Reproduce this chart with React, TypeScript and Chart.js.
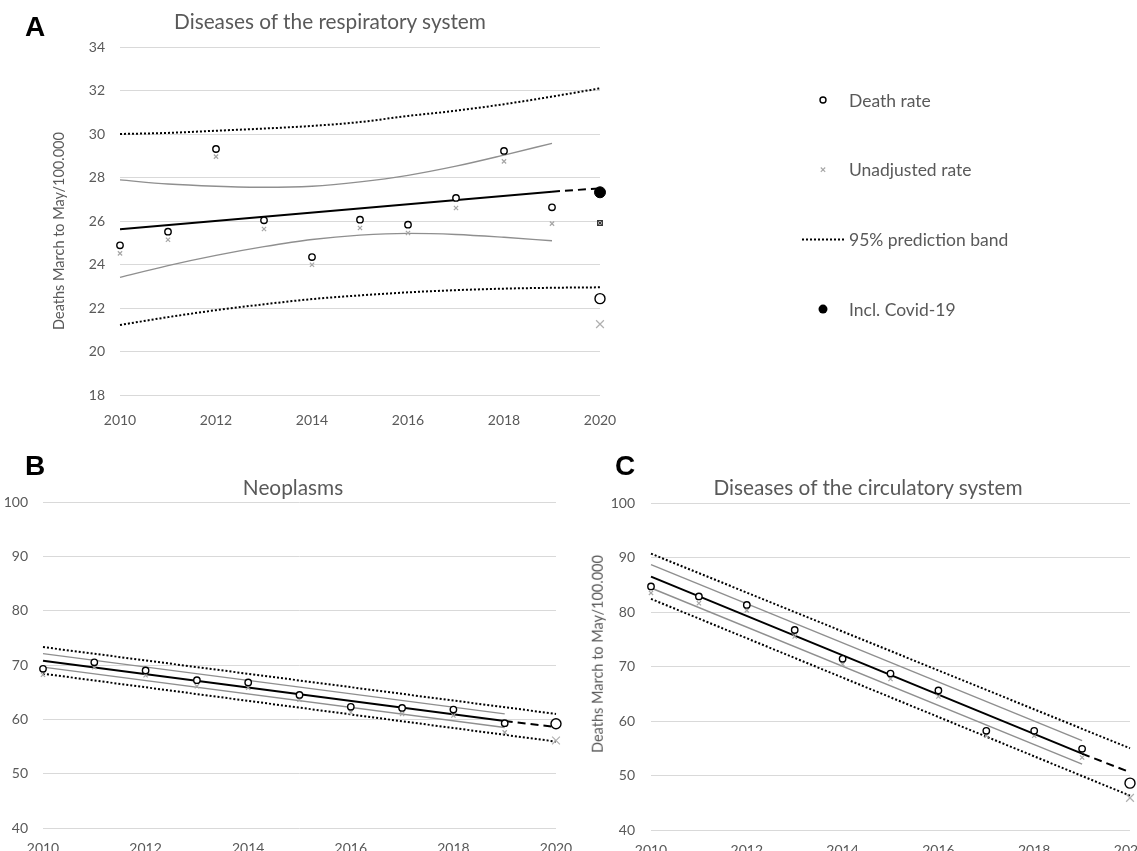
import React, { useEffect, useRef } from "react";
import { Chart, registerables } from "chart.js";

Chart.register(...registerables);

const FONT = "Lato, 'Open Sans', sans-serif";
const TEXT_GRAY = "#595959";
const GRID_GRAY = "#d9d9d9";
const CI_GRAY = "#8f8f8f";
const X_GRAY = "#a6a6a6";

// ---------- shared categories / ticks ----------
const YEARS = [2010, 2011, 2012, 2013, 2014, 2015, 2016, 2017, 2018, 2019];
const YEARS_ALL = [2010, 2011, 2012, 2013, 2014, 2015, 2016, 2017, 2018, 2019, 2020];
const YEAR_2020 = [2020];
const FIT_YEARS = [2010, 2019];
const EXT_YEARS = [2019, 2020];
const BAND_YEARS = [2010, 2020];
const X_TICKS = [2010, 2012, 2014, 2016, 2018, 2020];
const A_Y_TICKS = [18, 20, 22, 24, 26, 28, 30, 32, 34];
const BC_Y_TICKS = [40, 50, 60, 70, 80, 90, 100];

// ---------- Panel A: respiratory ----------
const A_RATE = [24.88, 25.51, 29.31, 26.03, 24.34, 26.06, 25.83, 27.06, 29.22, 26.63];
const A_UNADJ = [24.51, 25.14, 28.96, 25.63, 23.99, 25.68, 25.45, 26.6, 28.74, 25.88];
const A_RATE_2020 = [22.43];
const A_UNADJ_2020 = [21.26];
const A_COVID_RATE_2020 = [27.32];
const A_COVID_UNADJ_2020 = [25.91];
const A_FIT = [25.62, 27.35];
const A_FIT_EXT = [27.35, 27.5];
const A_CI_UPPER = [27.89, 27.7, 27.6, 27.55, 27.6, 27.8, 28.1, 28.52, 29.03, 29.57];
const A_CI_LOWER = [23.41, 23.95, 24.42, 24.82, 25.15, 25.35, 25.43, 25.38, 25.25, 25.09];
const A_PI_UPPER = [30.0, 30.05, 30.15, 30.25, 30.37, 30.55, 30.83, 31.07, 31.37, 31.72, 32.1];
const A_PI_LOWER = [21.22, 21.58, 21.9, 22.17, 22.41, 22.58, 22.72, 22.82, 22.89, 22.93, 22.95];

// ---------- Panel B: neoplasms ----------
const B_RATE = [69.3, 70.5, 69.0, 67.2, 66.8, 64.5, 62.3, 62.1, 61.8, 59.3];
const B_UNADJ = [68.2, 69.6, 68.1, 66.1, 65.8, 63.6, 61.3, 61.0, 60.7, 57.6];
const B_RATE_2020 = [59.2];
const B_UNADJ_2020 = [56.1];
const B_FIT = [70.8, 59.7];
const B_FIT_EXT = [59.7, 58.6];
const B_CI_UPPER = [72.1, 61.0];
const B_CI_LOWER = [69.6, 58.5];
const B_PI_UPPER = [73.3, 61.0];
const B_PI_LOWER = [68.4, 55.9];

// ---------- Panel C: circulatory ----------
const C_RATE = [84.7, 82.85, 81.3, 76.7, 71.4, 68.7, 65.6, 58.2, 58.2, 54.9];
const C_UNADJ = [83.5, 81.6, 80.3, 75.5, 70.4, 67.7, 64.5, 57.3, 57.3, 53.3];
const C_RATE_2020 = [48.6];
const C_UNADJ_2020 = [45.9];
const C_FIT = [86.5, 54.0];
const C_FIT_EXT = [54.0, 50.6];
const C_CI_UPPER = [88.7, 56.4];
const C_CI_LOWER = [84.4, 52.1];
const C_PI_UPPER = [90.7, 55.0];
const C_PI_LOWER = [82.4, 46.3];

// ---------- legend ----------
const LEGEND_LABELS = ["Death rate", "Unadjusted rate", "95% prediction band", "Incl. Covid-19"];

const pts = (xs: number[], ys: number[]) => xs.map((x, i) => ({ x, y: ys[i] }));

function lineDs(xs: number[], ys: number[], color: string, width: number, dash: number[], curved = false) {
  return {
    data: pts(xs, ys),
    showLine: true,
    borderColor: color,
    borderWidth: width,
    borderDash: dash,
    borderCapStyle: "butt",
    pointRadius: 0,
    pointHoverRadius: 0,
    fill: false,
    tension: curved ? 0.4 : 0,
    cubicInterpolationMode: curved ? "monotone" : "default",
    clip: false,
    order: 5,
  };
}

function markerDs(xs: number[], ys: number[], style: string, r: number, color: string, bw: number, bg: string, order = 1) {
  return {
    data: pts(xs, ys),
    showLine: false,
    pointStyle: style,
    pointRadius: r,
    pointHoverRadius: r,
    borderColor: color,
    pointBorderColor: color,
    backgroundColor: bg,
    pointBackgroundColor: bg,
    borderWidth: bw,
    pointBorderWidth: bw,
    clip: false,
    order,
  };
}

function panelDatasets(d: any) {
  return [
    lineDs(d.piYears, d.piUp, "#000", 2, [2, 2], d.curved),
    lineDs(d.piYears, d.piLo, "#000", 2, [2, 2], d.curved),
    lineDs(d.ciYears, d.ciUp, CI_GRAY, 1.4, [], d.curved),
    lineDs(d.ciYears, d.ciLo, CI_GRAY, 1.4, [], d.curved),
    lineDs(FIT_YEARS, d.fit, "#000", 2, []),
    lineDs(EXT_YEARS, d.fitExt, "#000", 2, [8, 5]),
    markerDs(YEARS, d.unadj, "crossRot", 3, X_GRAY, 1.2, X_GRAY, 2),
    markerDs(YEARS, d.rate, "circle", 3.2, "#000", 1.4, "#fff", 1),
    markerDs(YEAR_2020, d.unadj2020, "crossRot", 5.5, "#b0b0b0", 1.2, "#b0b0b0", 2),
    markerDs(YEAR_2020, d.rate2020, "circle", 5, "#000", 1.4, "#fff", 1),
  ];
}

const legendPlugin = {
  id: "sideLegend",
  afterDraw(chart: any) {
    const ctx = chart.ctx as CanvasRenderingContext2D;
    const area = chart.chartArea;
    const mx = area.right + 223;
    const y0 = area.top + 53;
    const step = 69.7;
    ctx.save();
    LEGEND_LABELS.forEach((label, i) => {
      const y = y0 + i * step;
      ctx.setLineDash([]);
      if (i === 0) {
        ctx.beginPath();
        ctx.arc(mx, y, 3, 0, Math.PI * 2);
        ctx.fillStyle = "#fff";
        ctx.fill();
        ctx.lineWidth = 1.4;
        ctx.strokeStyle = "#000";
        ctx.stroke();
      } else if (i === 1) {
        ctx.beginPath();
        ctx.moveTo(mx - 2.2, y - 2.2);
        ctx.lineTo(mx + 2.2, y + 2.2);
        ctx.moveTo(mx + 2.2, y - 2.2);
        ctx.lineTo(mx - 2.2, y + 2.2);
        ctx.lineWidth = 1.1;
        ctx.strokeStyle = X_GRAY;
        ctx.stroke();
      } else if (i === 2) {
        ctx.beginPath();
        ctx.setLineDash([2, 2]);
        ctx.moveTo(mx - 21, y);
        ctx.lineTo(mx + 21, y);
        ctx.lineWidth = 2;
        ctx.strokeStyle = "#000";
        ctx.stroke();
        ctx.setLineDash([]);
      } else {
        ctx.beginPath();
        ctx.arc(mx, y, 4.5, 0, Math.PI * 2);
        ctx.fillStyle = "#000";
        ctx.fill();
      }
      ctx.font = `17.5px ${FONT}`;
      ctx.fillStyle = TEXT_GRAY;
      ctx.textBaseline = "middle";
      ctx.textAlign = "left";
      ctx.fillText(label, mx + 26, y + 1);
    });
    ctx.restore();
  },
};

type Panel = {
  datasets: any[];
  yMin: number;
  yMax: number;
  yTicks: number[];
  padTop: number;
  padRight: number;
  yAxisWidth: number;
  xAxisHeight: number;
  tickSize: number;
  xTickPad: number;
  yTickPad: number;
  plugins?: any[];
};

function makeConfig(p: Panel): any {
  return {
    type: "scatter",
    data: { datasets: p.datasets },
    options: {
      animation: false,
      responsive: true,
      maintainAspectRatio: false,
      events: [],
      layout: { padding: { top: p.padTop, right: p.padRight, left: 0, bottom: 0 } },
      plugins: { legend: { display: false }, tooltip: { enabled: false }, title: { display: false } },
      scales: {
        x: {
          type: "linear",
          min: 2010,
          max: 2020,
          grid: { display: false },
          border: { display: false },
          afterBuildTicks: (s: any) => {
            s.ticks = X_TICKS.map((v) => ({ value: v }));
          },
          afterFit: (s: any) => {
            s.height = p.xAxisHeight;
          },
          ticks: {
            color: TEXT_GRAY,
            font: { family: FONT, size: p.tickSize },
            padding: p.xTickPad,
            maxRotation: 0,
            autoSkip: false,
            callback: (v: any) => String(v),
          },
        },
        y: {
          type: "linear",
          min: p.yMin,
          max: p.yMax,
          grid: { color: GRID_GRAY, lineWidth: 1, drawTicks: false },
          border: { display: false },
          afterBuildTicks: (s: any) => {
            s.ticks = p.yTicks.map((v) => ({ value: v }));
          },
          afterFit: (s: any) => {
            s.width = p.yAxisWidth;
          },
          ticks: {
            color: TEXT_GRAY,
            font: { family: FONT, size: p.tickSize },
            padding: p.yTickPad,
            autoSkip: false,
            callback: (v: any) => String(v),
          },
        },
      },
    },
    plugins: p.plugins || [],
  };
}

const titleStyle = (cx: number, top: number): React.CSSProperties => ({
  position: "absolute",
  left: cx,
  top,
  transform: "translateX(-50%)",
  fontFamily: FONT,
  fontSize: 20.8,
  lineHeight: 1,
  color: TEXT_GRAY,
  whiteSpace: "nowrap",
});

const yTitleStyle = (cx: number, cy: number): React.CSSProperties => ({
  position: "absolute",
  left: cx,
  top: cy,
  transform: "translate(-50%, -50%) rotate(-90deg)",
  fontFamily: FONT,
  fontSize: 14.5,
  lineHeight: 1,
  color: TEXT_GRAY,
  whiteSpace: "nowrap",
});

const letterStyle = (left: number, top: number): React.CSSProperties => ({
  position: "absolute",
  left,
  top,
  fontFamily: "'Liberation Sans', Arial, sans-serif",
  fontWeight: "bold",
  fontSize: 28,
  lineHeight: 1,
  color: "#000",
});

export default function App() {
  const refA = useRef<HTMLCanvasElement>(null);
  const refB = useRef<HTMLCanvasElement>(null);
  const refC = useRef<HTMLCanvasElement>(null);

  useEffect(() => {
    const dsA = panelDatasets({
      rate: A_RATE, unadj: A_UNADJ, rate2020: A_RATE_2020, unadj2020: A_UNADJ_2020,
      fit: A_FIT, fitExt: A_FIT_EXT, ciYears: YEARS, ciUp: A_CI_UPPER, ciLo: A_CI_LOWER,
      piYears: YEARS_ALL, piUp: A_PI_UPPER, piLo: A_PI_LOWER, curved: true,
    });
    dsA.push(markerDs(YEAR_2020, A_COVID_RATE_2020, "circle", 5.5, "#000", 1, "#000", 0));
    dsA.push(markerDs(YEAR_2020, A_COVID_UNADJ_2020, "rect", 3.4, "#333", 1.1, "#fff", 0));
    dsA.push(markerDs(YEAR_2020, A_COVID_UNADJ_2020, "crossRot", 2.4, "#333", 1.1, "#333", -1));

    const dsB = panelDatasets({
      rate: B_RATE, unadj: B_UNADJ, rate2020: B_RATE_2020, unadj2020: B_UNADJ_2020,
      fit: B_FIT, fitExt: B_FIT_EXT, ciYears: FIT_YEARS, ciUp: B_CI_UPPER, ciLo: B_CI_LOWER,
      piYears: BAND_YEARS, piUp: B_PI_UPPER, piLo: B_PI_LOWER, curved: false,
    });
    const dsC = panelDatasets({
      rate: C_RATE, unadj: C_UNADJ, rate2020: C_RATE_2020, unadj2020: C_UNADJ_2020,
      fit: C_FIT, fitExt: C_FIT_EXT, ciYears: FIT_YEARS, ciUp: C_CI_UPPER, ciLo: C_CI_LOWER,
      piYears: BAND_YEARS, piUp: C_PI_UPPER, piLo: C_PI_LOWER, curved: false,
    });

    const charts: Chart[] = [];
    charts.push(
      new Chart(refA.current!, makeConfig({
        datasets: dsA, yMin: 18, yMax: 34, yTicks: A_Y_TICKS,
        padTop: 47, padRight: 537, yAxisWidth: 120, xAxisHeight: 35,
        tickSize: 14, xTickPad: 9, yTickPad: 15, plugins: [legendPlugin],
      }))
    );
    charts.push(
      new Chart(refB.current!, makeConfig({
        datasets: dsB, yMin: 40, yMax: 100, yTicks: BC_Y_TICKS,
        padTop: 62, padRight: 24, yAxisWidth: 43, xAxisHeight: 52,
        tickSize: 14, xTickPad: 4, yTickPad: 15,
      }))
    );
    charts.push(
      new Chart(refC.current!, makeConfig({
        datasets: dsC, yMin: 40, yMax: 100, yTicks: BC_Y_TICKS,
        padTop: 63, padRight: 50, yAxisWidth: 71, xAxisHeight: 50,
        tickSize: 14, xTickPad: 4, yTickPad: 16,
      }))
    );
    return () => {
      charts.forEach((c) => c.destroy());
    };
  }, []);

  return (
    <div style={{ position: "absolute", left: 0, top: 0, width: 1137, height: 851, overflow: "hidden", background: "#fff" }}>
      <div style={{ position: "absolute", left: 0, top: 0, width: 1137, height: 430 }}>
        <canvas ref={refA} />
      </div>
      <div style={{ position: "absolute", left: 0, top: 440, width: 580, height: 440 }}>
        <canvas ref={refB} />
      </div>
      <div style={{ position: "absolute", left: 580, top: 440, width: 600, height: 440 }}>
        <canvas ref={refC} />
      </div>

      <div style={letterStyle(25, 13.4)}>A</div>
      <div style={letterStyle(25, 452.4)}>B</div>
      <div style={letterStyle(615, 452.4)}>C</div>

      <div style={titleStyle(330, 11.2)}>Diseases of the respiratory system</div>
      <div style={titleStyle(293, 477.2)}>Neoplasms</div>
      <div style={titleStyle(868, 477.2)}>Diseases of the circulatory system</div>

      <div style={yTitleStyle(59, 231)}>Deaths March to May/100.000</div>
      <div style={yTitleStyle(598, 654)}>Deaths March to May/100.000</div>
    </div>
  );
}
